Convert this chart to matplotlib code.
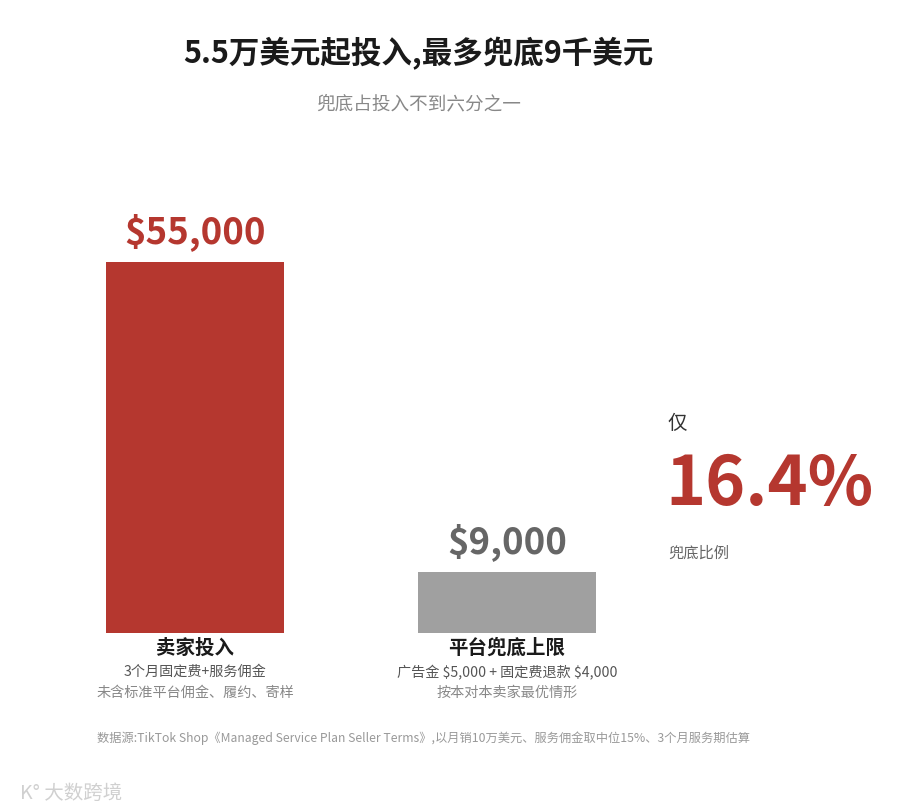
import matplotlib
matplotlib.use("Agg")
import matplotlib.pyplot as plt

plt.rcParams['font.family'] = ['Noto Sans CJK SC', 'DejaVu Sans']

# data
categories = ["卖家投入", "平台兜底上限"]
values = [55000, 9000]
value_labels = [r"\$55,000", r"\$9,000"]
line1 = ["3个月固定费+服务佣金", r"广告金 \$5,000 + 固定费退款 \$4,000"]
line2 = ["未含标准平台佣金、履约、寄样", "按本对本卖家最优情形"]
ratio_label = "16.4%"

RED = "#b5372f"
GREY = "#a0a0a0"

W, H = 900, 810
fig = plt.figure(figsize=(W / 100, H / 100), dpi=100)

# axes: bottom at pixel 633, top at pixel 262 (value 55000)
ax_left, ax_right = 60, 640
ax_bottom, ax_top = 633, 262
ax = fig.add_axes([ax_left / W, 1 - ax_bottom / H,
                   (ax_right - ax_left) / W, (ax_bottom - ax_top) / H])
ax.set_xlim(-0.4327, 1.426)
ax.set_ylim(0, 55000)
ax.axis("off")

colors = [RED, GREY]
text_colors = [RED, "#666666"]
x = [0, 1]
ax.bar(x, values, width=0.57, color=colors)

for xi, v, lab, tc in zip(x, values, value_labels, text_colors):
    ax.annotate(lab, (xi, v), xytext=(0, 8), textcoords="offset points",
                ha="center", va="bottom", fontsize=26.3, fontweight="bold",
                color=tc, annotation_clip=False)

for xi, cat, l1, l2 in zip(x, categories, line1, line2):
    ax.annotate(cat, (xi, 0), xytext=(0, -4), textcoords="offset points",
                ha="center", va="top", fontsize=14, fontweight="bold",
                color="#1a1a1a", annotation_clip=False)
    ax.annotate(l1, (xi, 0), xytext=(0, -23), textcoords="offset points",
                ha="center", va="top", fontsize=10.2, color="#555555",
                annotation_clip=False)
    ax.annotate(l2, (xi, 0), xytext=(0, -38), textcoords="offset points",
                ha="center", va="top", fontsize=10.2, color="#888888",
                annotation_clip=False)

# titles
fig.text(418 / W, 1 - 54 / H, "5.5万美元起投入,最多兜底9千美元",
         ha="center", va="center", fontsize=22, fontweight="bold", color="#1a1a1a")
fig.text(419 / W, 1 - 104 / H, "兜底占投入不到六分之一",
         ha="center", va="center", fontsize=13.4, color="#888888")

# side callout
fig.text(668 / W, 1 - 423 / H, "仅", ha="left", va="center",
         fontsize=14, color="#333333")
fig.text(665 / W, 1 - 486 / H, ratio_label, ha="left", va="center",
         fontsize=49, fontweight="bold", color=RED)
fig.text(668 / W, 1 - 553 / H, "兜底比例", ha="left", va="center",
         fontsize=11, color="#666666")

# source
fig.text(97 / W, 1 - 738 / H,
         "数据源:TikTok Shop《Managed Service Plan Seller Terms》,以月销10万美元、服务佣金取中位15%、3个月服务期估算",
         ha="left", va="center", fontsize=8.8, color="#999999")

# watermark
fig.text(20 / W, 1 - 793 / H, "K° 大数跨境", ha="left", va="center",
         fontsize=14, color="#d0d0d0")

fig.savefig("out.png", dpi=100, facecolor="white")
